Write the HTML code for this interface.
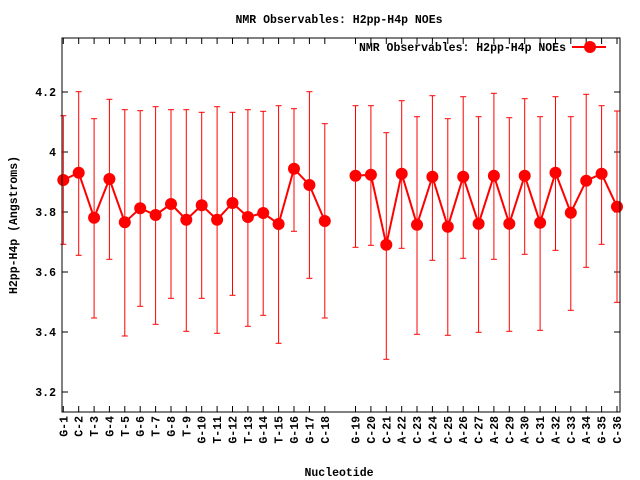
<!DOCTYPE html>
<html><head><style>body{margin:0;background:#fff}svg{display:block}text{font-family:"Liberation Mono",monospace;font-weight:bold;font-size:11.5px;fill:#000}</style></head>
<body>
<svg width="640" height="480" xmlns="http://www.w3.org/2000/svg">
<rect width="640" height="480" fill="#fff"/>
<g id="chart"></g>
<text x="339" y="23" text-anchor="middle">NMR Observables: H2pp-H4p NOEs</text>
<text x="339" y="476" text-anchor="middle">Nucleotide</text>
<text transform="translate(17,225) rotate(-90)" text-anchor="middle">H2pp-H4p (Angstroms)</text>
<text x="566" y="51" text-anchor="end">NMR Observables: H2pp-H4p NOEs</text>
<line x1="572" y1="47" x2="606" y2="47" stroke="#f00" stroke-width="2"/>
<circle cx="590" cy="47" r="6" fill="#f00"/>
</svg>
<script>
const d=[[180,115.7,244.3],[172.7,91.7,255.3],[217.7,118.7,318],[179,99.3,259.3],[222.3,109.7,336],[208.3,110.7,306.3],[215,106.7,324.3],[204,109.7,298.3],[219.7,109.7,331.3],[205.3,112.3,298.3],[219.7,106.7,333.3],[203,112.3,295.3],[217,109.7,326.3],[213,111.3,315.3],[224,105.7,343.3],[168.7,108.7,231.3],[185,91.7,278.3],[221,123.7,318],
[175.7,105.7,247.3],[174.7,105.7,245.3],[244.7,132.7,359.3],[173.7,100.7,248.3],[224.7,116.7,334.3],[176.7,95.7,260.3],[226.7,118.7,335.3],[176.7,96.7,258.3],[223.7,116.7,332.3],[175.7,93.3,259.3],[223.7,117.7,331.3],[175.7,98.7,254.3],[222.7,116.7,330.3],[172.7,96.7,250.3],[212.7,116.7,310.3],[180.7,94.3,267.3],[173.7,105.7,244.3],[206.7,111,302.3]];
const lab=["G-1","C-2","T-3","G-4","T-5","G-6","T-7","G-8","T-9","G-10","T-11","G-12","T-13","G-14","T-15","G-16","G-17","C-18","G-19","C-20","C-21","A-22","C-23","A-24","C-25","A-26","C-27","A-28","C-29","A-30","C-31","A-32","C-33","A-34","G-35","C-36"];
let s='';const L=62,R=620,T=38,B=412;
const X=i=>63.3+(i<18?i:i+1)*15.38;
// y ticks
[[4.2,92],[4,152],[3.8,212],[3.6,272],[3.4,332],[3.2,392]].forEach(([v,y])=>{s+=`<line x1="${L}" y1="${y}" x2="${L+6}" y2="${y}" stroke="#000"/><line x1="${R}" y1="${y}" x2="${R-6}" y2="${y}" stroke="#000"/><text x="56" y="${y+4}" text-anchor="end">${v==4?'4':v.toFixed(1)}</text>`});
let pts1=[],pts2=[];
d.forEach((p,i)=>{const x=X(i).toFixed(1);
s+=`<line x1="${x}" y1="${B}" x2="${x}" y2="${B-6}" stroke="#000"/><line x1="${x}" y1="${T}" x2="${x}" y2="${T+6}" stroke="#000"/>`;
s+=`<text transform="translate(${+x+4},416) rotate(-90)" text-anchor="end">${lab[i]}</text>`;
s+=`<line x1="${x}" y1="${p[1]}" x2="${x}" y2="${p[2]}" stroke="#f00"/><line x1="${x-3}" y1="${p[1]}" x2="${+x+3}" y2="${p[1]}" stroke="#f00"/><line x1="${x-3}" y1="${p[2]}" x2="${+x+3}" y2="${p[2]}" stroke="#f00"/>`;
(i<18?pts1:pts2).push(x+','+p[0]);});
s+=`<polyline points="${pts1.join(' ')}" fill="none" stroke="#f00" stroke-width="2"/><polyline points="${pts2.join(' ')}" fill="none" stroke="#f00" stroke-width="2"/>`;
d.forEach((p,i)=>{s+=`<circle cx="${X(i).toFixed(1)}" cy="${p[0]}" r="6" fill="#f00"/>`});
s+=`<rect x="${L}" y="${T}" width="${R-L}" height="${B-T}" fill="none" stroke="#000"/>`;
document.getElementById('chart').innerHTML=s;
</script>
</body></html>
